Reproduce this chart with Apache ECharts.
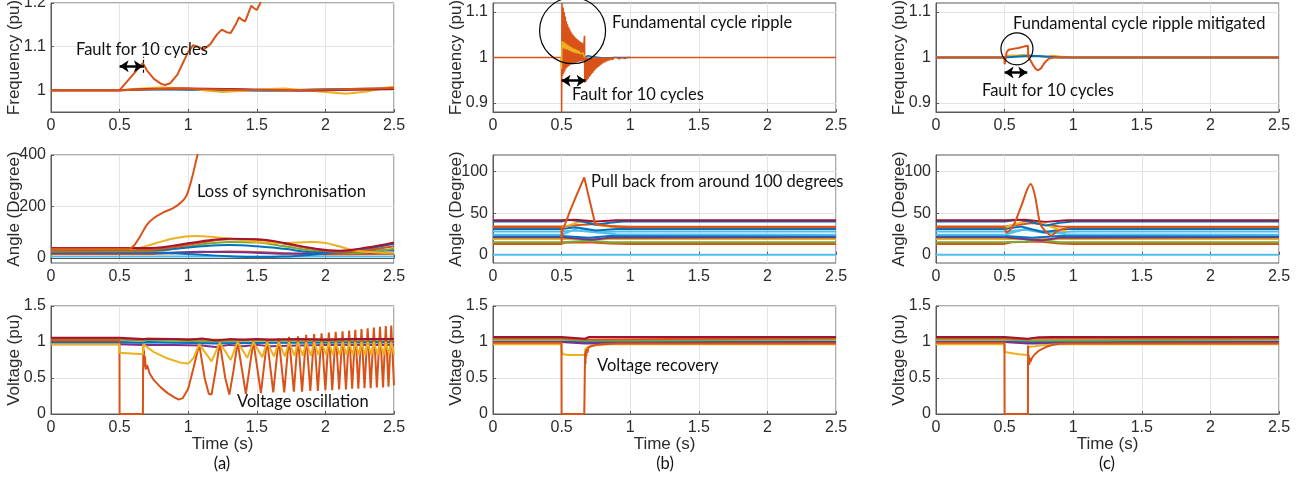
<!DOCTYPE html>
<html>
<head>
<meta charset="utf-8">
<script src="https://cdn.jsdelivr.net/npm/echarts@6/dist/echarts.min.js"></script>
<style>
  html, body { margin: 0; padding: 0; background: #fff; }
  #main { width: 1315px; height: 485px; }
</style>
</head>
<body>
<div id="main"></div>
<script>
// ---- data: [time (s), value] ----

// (a) frequency
const freqA_blue = [[0,1],[0.5,1],[0.8,1.002],[1.2,1.0],[1.6,0.999],[2.0,1.002],[2.5,1.004]];
const freqA_yellow = [[0,1],[0.5,1],[0.6,1.003],[0.8,1.006],[1.0,1.004],[1.15,0.999],[1.25,0.996],[1.4,0.999],[1.55,1.002],[1.7,1.004],[1.85,1.0],[2.0,0.996],[2.15,0.992],[2.3,0.997],[2.45,1.006],[2.5,1.008]];
const freqA_red = [[0,1],[0.5,1],[0.7,1.003],[1.0,1.004],[1.4,1.002],[1.8,0.999],[2.2,1.001],[2.5,1.003]];
const freqA_orange2 = [[0,1],[0.5,1],[0.9,1.004],[1.3,1.001],[1.7,1.0],[2.1,1.002],[2.5,1.005]];
const freqA_orange = [[0,1],[0.5,1],[0.67,1.062],[0.7,1.045],[0.75,1.026],[0.8,1.015],[0.83,1.012],[0.87,1.016],[0.92,1.035],[0.97,1.068],[1.0,1.088],[1.035,1.103],[1.07,1.1],[1.11,1.093],[1.16,1.105],[1.21,1.128],[1.245,1.139],[1.28,1.133],[1.31,1.131],[1.345,1.15],[1.37,1.167],[1.395,1.161],[1.415,1.158],[1.44,1.178],[1.46,1.194],[1.48,1.188],[1.5,1.184],[1.52,1.196],[1.55,1.22],[1.6,1.27]];

// (a) angle
const angA_lblue = [[0,5],[2.5,5]];
const angA_orange3 = [[0,15],[0.7,15],[1.0,20],[1.3,25],[1.7,18],[2.0,14],[2.5,16]];
const angA_purple = [[0,20],[0.8,20],[1.1,24],[1.4,22],[1.7,16],[2.0,18],[2.3,22],[2.5,20]];
const angA_blue2 = [[0,24],[0.7,22],[0.9,18],[1.1,12],[1.3,6],[1.5,3],[1.7,5],[1.9,12],[2.1,22],[2.3,28],[2.5,30]];
const angA_green = [[0,25],[0.7,26],[0.9,35],[1.1,52],[1.3,62],[1.5,60],[1.7,45],[1.9,28],[2.1,18],[2.3,22],[2.5,35]];
const angA_blue = [[0,30],[0.7,30],[0.9,35],[1.1,45],[1.3,50],[1.5,45],[1.7,35],[1.9,22],[2.1,20],[2.3,35],[2.5,55]];
const angA_orange2 = [[0,30],[0.7,31],[0.9,42],[1.1,60],[1.3,72],[1.5,70],[1.7,55],[1.9,35],[2.1,22],[2.3,30],[2.5,45]];
const angA_yellow = [[0,35],[0.6,36],[0.75,55],[0.9,76],[1.05,85],[1.2,80],[1.35,72],[1.5,62],[1.65,58],[1.8,60],[1.9,62],[2.0,58],[2.1,45],[2.2,30],[2.35,22],[2.5,20]];
const angA_red = [[0,38],[0.7,38],[0.9,48],[1.1,65],[1.3,74],[1.5,72],[1.7,58],[1.9,38],[2.1,28],[2.3,40],[2.5,60]];
const angA_orange = [[0,35],[0.56,35],[0.6,45],[0.65,84],[0.7,129],[0.75,155],[0.82,177],[0.89,193],[0.955,219],[0.99,245],[1.03,316],[1.065,394],[1.1,460]];

// (a) voltage
const voltA_lblue = [[0,0.99],[2.5,0.99]];
const voltA_blue = [[0,1.0],[0.5,1.0],[0.505,0.99],[0.67,0.99],[0.7,1.0],[1.2,0.98],[1.6,0.99],[2.5,1.0]];
const voltA_green = [[0,1.03],[0.5,1.03],[0.505,1.02],[0.67,1.02],[0.7,1.03],[1.1,1.01],[1.5,1.02],[2.0,1.02],[2.5,1.03]];
const voltA_orange2 = [[0,1.05],[0.5,1.05],[0.505,1.03],[0.67,1.03],[0.7,1.05],[1.2,1.03],[2.5,1.04]];
const voltA_purple = [[0,0.97],[0.5,0.97],[0.67,0.96],[0.9,0.96],[1.1,0.95],[1.2,0.93],[1.3,0.96],[1.4,0.94],[1.5,0.96],[1.6,0.94],[1.8,0.95],[2.0,0.96],[2.5,0.96]];
const voltA_orange = [[0,1.02],[0.499,1.02],[0.5,0],[0.67,0],[0.671,0.55],[0.673,0.95],[0.675,0.7],[0.678,0.88],[0.681,0.65],[0.685,0.8],[0.69,0.62],[0.7,0.68],[0.72,0.56],[0.75,0.47],[0.8,0.37],[0.85,0.29],[0.9,0.23],[0.93,0.2],[0.96,0.22],[1.0,0.35],[1.04,0.65],[1.08,0.97],
  [1.12,0.5],[1.15,0.28],[1.17,0.27],[1.2,0.6],[1.23,0.99],[1.27,0.5],[1.30,0.27],[1.33,0.6],[1.36,1.0],[1.42,0.28],[1.475,1.01],[1.53,0.29],[1.575,1.03],[1.62,0.3],[1.66,1.05],[1.70,0.3],[1.735,1.07],[1.77,0.31],[1.80,1.08],[1.83,0.31],[1.86,1.1],[1.89,0.32],[1.918,1.11],[1.945,0.32],[1.972,1.12],[2.0,0.33],[2.025,1.13],[2.05,0.33],[2.075,1.14],[2.10,0.34],[2.125,1.15],[2.15,0.34],[2.173,1.16],[2.195,0.35],[2.218,1.17],[2.24,0.35],[2.263,1.18],[2.285,0.36],[2.308,1.19],[2.33,0.36],[2.353,1.2],[2.375,0.37],[2.398,1.21],[2.42,0.37],[2.44,1.22],[2.46,0.38],[2.48,1.23],[2.5,0.4]];
const voltA_yellow = [[0,0.97],[0.499,0.97],[0.5,0.85],[0.51,0.83],[0.67,0.83],[0.672,0.97],[0.68,0.95],[0.75,0.86],[0.85,0.77],[0.95,0.71],[1.0,0.70],[1.04,0.78],[1.08,0.97],[1.17,0.73],[1.23,0.99],[1.31,0.75],[1.36,1.0],[1.43,0.78],[1.475,1.0],[1.54,0.79],[1.575,1.0],[1.625,0.8],[1.66,1.0],[1.705,0.8],[1.735,1.0],[1.775,0.81],[1.80,1.0],[1.835,0.81],[1.86,1.0],[1.895,0.81],[1.918,1.0],[1.95,0.82],[1.972,1.0],[2.005,0.82],[2.025,1.0],[2.055,0.82],[2.075,1.0],[2.105,0.82],[2.125,1.0],[2.155,0.82],[2.173,1.0],[2.2,0.82],[2.218,1.0],[2.245,0.82],[2.263,1.0],[2.29,0.82],[2.308,1.0],[2.335,0.82],[2.353,1.0],[2.38,0.82],[2.398,1.0],[2.425,0.82],[2.44,1.0],[2.465,0.82],[2.48,1.0],[2.5,0.83]];
const voltA_red = [[0,1.06],[0.499,1.06],[0.5,1.04],[0.67,1.04],[0.675,1.06],[0.9,1.04],[1.0,1.03],[1.1,1.05],[1.2,1.02],[1.3,1.04],[1.4,1.03],[1.5,1.04],[1.6,1.03],[1.8,1.04],[2.0,1.03],[2.2,1.04],[2.5,1.04]];

// (b) frequency
const freqB_blue = [[0.6,1],[0.67,1.0],[0.69,1.004],[0.72,1.002],[0.8,0.999],[0.9,1.0],[1.0,1.0]];
const freqB_orange = [[0,1],[0.499,1],[0.5,0.88],[0.503,1.12],[0.507,0.96],[0.511,1.11],[0.515,0.965],[0.519,1.1],[0.523,0.97],[0.527,1.09],[0.531,0.975],[0.535,1.08],[0.539,0.978],[0.543,1.073],[0.547,0.98],[0.551,1.067],[0.555,0.982],[0.559,1.062],[0.563,0.984],[0.567,1.057],[0.571,0.985],[0.575,1.053],[0.579,0.986],[0.583,1.05],[0.587,0.987],[0.591,1.047],[0.595,0.988],[0.599,1.044],[0.603,0.989],[0.607,1.042],[0.611,0.99],[0.615,1.04],[0.619,0.99],[0.623,1.038],[0.627,0.991],[0.631,1.036],[0.635,0.991],[0.639,1.034],[0.643,0.992],[0.647,1.033],[0.651,0.992],[0.655,1.031],[0.659,0.993],[0.663,1.03],[0.667,1.048],[0.669,0.945],[0.673,1.0],[0.677,0.947],[0.681,1.0],[0.685,0.95],[0.689,1.0],[0.693,0.953],[0.697,1.0],[0.701,0.957],[0.705,1.0],[0.709,0.96],[0.713,1.0],[0.717,0.963],[0.721,1.0],[0.725,0.966],[0.729,1.0],[0.733,0.969],[0.737,1.0],[0.741,0.972],[0.745,1.0],[0.749,0.975],[0.753,1.0],[0.757,0.977],[0.761,1.0],[0.765,0.979],[0.769,1.0],[0.773,0.981],[0.777,1.0],[0.781,0.983],[0.785,1.0],[0.79,0.985],[0.795,1.0],[0.8,0.987],[0.805,1.0],[0.81,0.989],[0.815,1.0],[0.82,0.99],[0.825,1.0],[0.83,0.992],[0.835,1.0],[0.84,0.993],[0.845,1.0],[0.85,0.994],[0.86,1.0],[0.87,0.995],[0.88,1.0],[0.89,0.996],[0.9,1.0],[0.92,0.997],[0.94,1.0],[0.96,0.998],[0.98,1.0],[2.5,1.0]];
const freqB_yellow = [[0.495,1],[0.5,0.975],[0.503,1.036],[0.51,1.02],[0.517,1.034],[0.524,1.019],[0.531,1.031],[0.538,1.018],[0.545,1.028],[0.552,1.016],[0.559,1.025],[0.566,1.014],[0.573,1.022],[0.58,1.012],[0.587,1.02],[0.594,1.011],[0.601,1.018],[0.608,1.01],[0.615,1.016],[0.622,1.009],[0.629,1.014],[0.636,1.008],[0.643,1.012],[0.65,1.007],[0.657,1.01],[0.664,1.006],[0.668,1.0]];

// (b) angle
const angB_lblue0 = [[0,0],[2.5,0]];
const angB_orange3 = [[0,13],[0.5,13],[0.52,14.5],[0.7,15],[0.85,13.5],[1.0,13],[2.5,13]];
const angB_green = [[0,15],[0.5,15],[0.6,16],[0.7,17],[0.85,15],[2.5,15]];
const angB_yellow = [[0,19],[2.5,19]];
const angB_purple = [[0,21],[0.5,21],[0.65,19],[0.72,18],[0.85,20.5],[2.5,21]];
const angB_dblue = [[0,22.5],[0.5,22.5],[0.7,20.5],[0.85,22.5],[2.5,22.5]];
const angB_lblue2 = [[0,24],[0.5,24],[0.62,32],[0.75,27],[0.9,24.5],[2.5,24]];
const angB_lblue = [[0,28],[0.5,28],[0.6,29],[0.75,27],[0.9,28],[2.5,28]];
const angB_blue2 = [[0,31],[0.5,31],[0.6,33],[0.75,29],[0.9,31],[2.5,31]];
const angB_orange2 = [[0,34],[0.5,34],[0.6,35.5],[0.75,37],[0.85,34.5],[1.0,33.5],[2.5,33.5]];
const angB_yellow2 = [[0.5,33],[0.55,35],[0.62,39],[0.68,41],[0.72,38],[0.78,35],[0.9,33]];
const angB_blue = [[0,40],[0.5,40],[0.55,42],[0.65,40],[0.75,36],[0.85,38.5],[0.95,40],[2.5,40]];
const angB_red = [[0,41.5],[0.5,41.5],[0.6,42],[0.75,40],[0.9,41.5],[2.5,41.5]];
const angB_orange = [[0,33],[0.499,33],[0.5,15],[0.505,28],[0.56,52],[0.61,72],[0.665,93],[0.705,65],[0.745,37],[0.8,35.5],[0.9,33.5],[1.0,33],[2.5,33]];

// (b) voltage
const voltB_lblue = [[0,1.01],[2.5,1.01]];
const voltB_blue = [[0,1.0],[0.5,1.0],[0.505,0.995],[0.67,0.995],[0.68,1.0],[2.5,1.0]];
const voltB_green = [[0,1.035],[0.5,1.035],[0.505,1.02],[0.67,1.02],[0.68,1.035],[2.5,1.035]];
const voltB_orange2 = [[0,1.055],[0.499,1.055],[0.5,1.035],[0.67,1.035],[0.68,1.05],[2.5,1.055]];
const voltB_purple = [[0,1.0],[0.499,1.0],[0.5,0.98],[0.67,0.98],[0.675,1.0],[2.5,1.0]];
const voltB_red = [[0,1.07],[0.499,1.07],[0.5,1.045],[0.67,1.045],[0.675,1.06],[0.7,1.07],[2.5,1.07]];
const voltB_yellow = [[0,0.97],[0.499,0.97],[0.5,0.87],[0.51,0.83],[0.55,0.82],[0.67,0.82],[0.672,0.9],[0.69,0.93],[0.75,0.955],[0.85,0.97],[2.5,0.97]];
const voltB_orange = [[0,0.99],[0.499,0.99],[0.5,0],[0.665,0],[0.667,0.24],[0.669,0.55],[0.671,0.85],[0.674,0.7],[0.677,0.88],[0.68,0.8],[0.684,0.9],[0.688,0.85],[0.695,0.92],[0.71,0.94],[0.75,0.96],[0.8,0.97],[0.9,0.98],[2.5,0.98]];

// (c) frequency
const freqC_yellow = [[0,1],[0.5,1],[0.52,1.004],[0.6,1.005],[0.67,1.006],[0.7,1.002],[0.75,1.004],[0.8,1.001],[0.85,1.004],[0.9,1.002],[1.0,1.0],[2.5,1.0]];
const freqC_blue = [[0,1],[0.5,1],[0.6,1.002],[0.7,1.004],[0.8,1.002],[0.9,1.0],[2.5,1.0]];
const freqC_orange = [[0,1],[0.499,1],[0.5,0.985],[0.503,0.99],[0.515,1.012],[0.53,1.017],[0.56,1.019],[0.6,1.021],[0.64,1.024],[0.67,1.026],[0.673,1.0],[0.69,0.993],[0.71,0.982],[0.73,0.974],[0.745,0.972],[0.765,0.976],[0.79,0.988],[0.82,0.997],[0.86,1.0],[2.5,1.0]];

// (c) angle
const angC_lblue0 = [[0,0],[2.5,0]];
const angC_orange3 = [[0,13],[0.5,13],[0.55,15],[0.75,16],[0.9,13.5],[1.0,13],[2.5,13]];
const angC_green = [[0,15],[0.5,15],[0.65,16],[0.75,18],[0.9,15],[2.5,15]];
const angC_yellow = [[0,19],[2.5,19]];
const angC_purple = [[0,21],[0.5,21],[0.7,18],[0.78,17.5],[0.9,20.5],[2.5,21]];
const angC_dblue = [[0,22.5],[0.5,22.5],[0.7,20.5],[0.9,22.5],[2.5,22.5]];
const angC_lblue2 = [[0,24],[0.5,24],[0.65,31],[0.8,28],[0.95,24.5],[2.5,24]];
const angC_lblue = [[0,28],[0.5,28],[0.65,30],[0.8,26],[1.0,28],[2.5,28]];
const angC_blue2 = [[0,31],[0.5,31],[0.62,34],[0.78,27],[0.95,31],[2.5,31]];
const angC_orange2 = [[0,34],[0.5,34],[0.6,36],[0.7,38],[0.8,36],[0.9,34],[2.5,33.5]];
const angC_yellow2 = [[0.5,33],[0.58,37],[0.68,41],[0.74,40],[0.8,36],[0.9,30],[0.95,28]];
const angC_blue = [[0,40],[0.5,40],[0.6,42],[0.7,39],[0.8,35],[0.9,38.5],[1.0,40],[2.5,40]];
const angC_red = [[0,41.5],[0.5,41.5],[0.65,42],[0.8,39.5],[0.95,41.5],[2.5,41.5]];
const angC_orange = [[0,33],[0.5,33],[0.51,27],[0.53,28],[0.57,37],[0.62,58],[0.69,85],[0.72,72],[0.76,37],[0.8,28],[0.84,23],[0.88,28],[0.95,32],[1.0,33],[2.5,33]];

// (c) voltage
const voltC_lblue = [[0,1.01],[2.5,1.01]];
const voltC_blue = [[0,1.0],[0.5,1.0],[0.505,0.995],[0.67,0.995],[0.68,1.0],[2.5,1.0]];
const voltC_green = [[0,1.035],[0.5,1.035],[0.505,1.02],[0.67,1.02],[0.68,1.035],[2.5,1.035]];
const voltC_orange2 = [[0,1.055],[0.499,1.055],[0.5,1.035],[0.67,1.035],[0.7,1.05],[2.5,1.055]];
const voltC_purple = [[0,1.0],[0.499,1.0],[0.5,0.98],[0.67,0.98],[0.68,1.0],[2.5,1.0]];
const voltC_red = [[0,1.07],[0.499,1.07],[0.5,1.045],[0.67,1.045],[0.68,1.06],[0.75,1.065],[0.85,1.07],[2.5,1.07]];
const voltC_yellow = [[0,0.97],[0.499,0.97],[0.5,0.86],[0.51,0.84],[0.6,0.83],[0.67,0.82],[0.672,0.93],[0.72,0.94],[0.8,0.96],[0.9,0.97],[2.5,0.97]];
const voltC_orange = [[0,0.99],[0.499,0.99],[0.5,0],[0.67,0],[0.671,0.95],[0.673,0.7],[0.676,0.82],[0.679,0.68],[0.683,0.78],[0.687,0.72],[0.7,0.78],[0.72,0.83],[0.75,0.88],[0.8,0.93],[0.85,0.96],[0.9,0.975],[1.0,0.98],[2.5,0.98]];

// axis ticks
const timeTicks = [0, 0.5, 1, 1.5, 2, 2.5];
const freqTicksA = [1, 1.1, 1.2];
const freqTicksBC = [0.9, 1, 1.1];
const angTicksA = [0, 200, 400];
const angTicksBC = [0, 50, 100];
const voltTicks = [0, 0.5, 1, 1.5];

// ---- layout / style ----
const C = {
  blue: '#0072BD', orange: '#D95319', yellow: '#EDB120', purple: '#7E2F8E',
  green: '#77AC30', lblue: '#4DBEEE', red: '#A2142F'
};
const colLeft = [51, 493, 936];
const rowTop = [3, 155, 306];
const plotW = 343;
const plotH = [109, 108, 108];
const yNameGap = [28, 28, 28];
const yNames = ['Frequency (pu)', 'Angle (Degree)', 'Voltage (pu)'];
const yRange = [
  [{min: 0.95, max: 1.2, ticks: freqTicksA}, {min: 0.88, max: 1.12, ticks: freqTicksBC}, {min: 0.88, max: 1.12, ticks: freqTicksBC}],
  [{min: -20, max: 400, ticks: angTicksA}, {min: -10, max: 120, ticks: angTicksBC}, {min: -10, max: 120, ticks: angTicksBC}],
  [{min: 0, max: 1.5, ticks: voltTicks}, {min: 0, max: 1.5, ticks: voltTicks}, {min: 0, max: 1.5, ticks: voltTicks}]
];
const axisFont = 'Arial';
const noteFont = "Lato, 'Open Sans', sans-serif";
const axisText = '#2b2b2b';

const grids = [], xAxes = [], yAxes = [];
for (let r = 0; r < 3; r++) {
  for (let c = 0; c < 3; c++) {
    grids.push({
      left: colLeft[c], top: rowTop[r], width: plotW, height: plotH[r],
      show: true, borderColor: '#5a5a5a', borderWidth: 1, outerBoundsMode: 'none'
    });
    const gi = r * 3 + c;
    xAxes.push({
      type: 'value', gridIndex: gi, min: 0, max: 2.5, interval: 0.5,
      name: r === 2 ? 'Time (s)' : '', nameLocation: 'middle', nameGap: 22, nameMoveOverlap: false,
      nameTextStyle: {color: axisText, fontSize: 17, fontFamily: axisFont},
      axisLine: {lineStyle: {color: '#5a5a5a'}},
      axisTick: {inside: true, length: 3, lineStyle: {color: '#5a5a5a'}},
      axisLabel: {color: axisText, fontSize: 16, fontFamily: axisFont, margin: 6, customValues: timeTicks},
      splitLine: {show: true, lineStyle: {color: '#e3e3e3', width: 1}}
    });
    const yr = yRange[r][c];
    yAxes.push({
      type: 'value', gridIndex: gi, min: yr.min, max: yr.max,
      name: yNames[r], nameLocation: 'middle', nameGap: yNameGap[c], nameMoveOverlap: false,
      nameTextStyle: {color: axisText, fontSize: 17, fontFamily: axisFont},
      axisLine: {show: true, lineStyle: {color: '#5a5a5a'}},
      axisTick: {inside: true, length: 3, lineStyle: {color: '#5a5a5a'}, customValues: yr.ticks},
      axisLabel: {color: axisText, fontSize: 16, fontFamily: axisFont, margin: 5, customValues: yr.ticks},
      splitLine: {show: true, lineStyle: {color: '#e3e3e3', width: 1}}
    });
  }
}

function line(data, color, gi, extra) {
  return Object.assign({
    type: 'line', xAxisIndex: gi, yAxisIndex: gi, data: data,
    showSymbol: false, symbol: 'none', silent: true, animation: false,
    lineStyle: {color: color, width: 2}, itemStyle: {color: color}
  }, extra || {});
}

const arrowMark = (t0, t1, y) => ({
  silent: true, symbol: ['arrow', 'arrow'], symbolSize: 9, animation: false,
  label: {show: false}, emphasis: {disabled: true},
  lineStyle: {color: '#000', width: 2.5, type: 'solid'},
  data: [[{coord: [t0, y]}, {coord: [t1, y]}]]
});

const series = [
  // (a) frequency - grid 0
  line(freqA_blue, C.blue, 0),
  line(freqA_yellow, C.yellow, 0, {
    markLine: {
      silent: true, symbol: ['none', 'none'], animation: false, label: {show: false},
      lineStyle: {color: '#000', width: 1.2, type: [3, 2]},
      data: [[{coord: [0.67, 1.04]}, {coord: [0.67, 1.077]}]]
    }
  }),
  line(freqA_red, C.red, 0),
  line(freqA_orange2, C.orange, 0),
  line(freqA_orange, C.orange, 0, {markLine: arrowMark(0.5, 0.67, 1.055)}),
  // (b) frequency - grid 1
  line(freqB_blue, C.blue, 1, {lineStyle: {color: C.blue, width: 1.5}}),
  line(freqB_orange, C.orange, 1, {lineStyle: {color: C.orange, width: 1.6}, markLine: arrowMark(0.5, 0.675, 0.949)}),
  line(freqB_yellow, C.yellow, 1, {lineStyle: {color: C.yellow, width: 1.5}}),
  // (c) frequency - grid 2
  line(freqC_yellow, C.yellow, 2),
  line(freqC_blue, C.blue, 2),
  line(freqC_orange, C.orange, 2, {markLine: arrowMark(0.5, 0.665, 0.967)}),
  // (a) angle - grid 3
  line(angA_lblue, C.lblue, 3),
  line(angA_orange3, C.orange, 3, {smooth: 0.4}),
  line(angA_purple, C.purple, 3, {smooth: 0.4}),
  line(angA_blue2, C.blue, 3, {smooth: 0.4}),
  line(angA_green, C.green, 3, {smooth: 0.4}),
  line(angA_blue, C.blue, 3, {smooth: 0.4}),
  line(angA_orange2, C.orange, 3, {smooth: 0.4}),
  line(angA_yellow, C.yellow, 3, {smooth: 0.4}),
  line(angA_red, C.red, 3, {smooth: 0.4}),
  line(angA_orange, C.orange, 3, {smooth: 0.3}),
  // (b) angle - grid 4
  line(angB_lblue0, C.lblue, 4),
  line(angB_orange3, C.orange, 4),
  line(angB_green, C.green, 4),
  line(angB_yellow, C.yellow, 4),
  line(angB_purple, C.purple, 4),
  line(angB_dblue, C.blue, 4),
  line(angB_lblue2, C.lblue, 4),
  line(angB_lblue, C.lblue, 4),
  line(angB_blue2, C.blue, 4),
  line(angB_orange2, C.orange, 4),
  line(angB_yellow2, C.yellow, 4),
  line(angB_blue, C.blue, 4),
  line(angB_red, C.red, 4),
  line(angB_orange, C.orange, 4),
  // (c) angle - grid 5
  line(angC_lblue0, C.lblue, 5),
  line(angC_orange3, C.orange, 5),
  line(angC_green, C.green, 5),
  line(angC_yellow, C.yellow, 5),
  line(angC_purple, C.purple, 5),
  line(angC_dblue, C.blue, 5),
  line(angC_lblue2, C.lblue, 5),
  line(angC_lblue, C.lblue, 5),
  line(angC_blue2, C.blue, 5),
  line(angC_orange2, C.orange, 5),
  line(angC_yellow2, C.yellow, 5),
  line(angC_blue, C.blue, 5),
  line(angC_red, C.red, 5),
  line(angC_orange, C.orange, 5, {smooth: 0.3}),
  // (a) voltage - grid 6
  line(voltA_lblue, C.lblue, 6),
  line(voltA_blue, C.blue, 6),
  line(voltA_green, C.green, 6),
  line(voltA_orange2, C.orange, 6),
  line(voltA_purple, C.purple, 6),
  line(voltA_orange, C.orange, 6),
  line(voltA_yellow, C.yellow, 6),
  line(voltA_red, C.red, 6),
  // (b) voltage - grid 7
  line(voltB_lblue, C.lblue, 7),
  line(voltB_blue, C.blue, 7),
  line(voltB_green, C.green, 7),
  line(voltB_orange2, C.orange, 7),
  line(voltB_purple, C.purple, 7),
  line(voltB_red, C.red, 7),
  line(voltB_yellow, C.yellow, 7),
  line(voltB_orange, C.orange, 7),
  // (c) voltage - grid 8
  line(voltC_lblue, C.lblue, 8),
  line(voltC_blue, C.blue, 8),
  line(voltC_green, C.green, 8),
  line(voltC_orange2, C.orange, 8),
  line(voltC_purple, C.purple, 8),
  line(voltC_red, C.red, 8),
  line(voltC_yellow, C.yellow, 8),
  line(voltC_orange, C.orange, 8)
];

const chart = echarts.init(document.getElementById('main'), null, {renderer: 'canvas'});
chart.setOption({
  animation: false,
  backgroundColor: '#fff',
  grid: grids,
  xAxis: xAxes,
  yAxis: yAxes,
  series: series
});

// annotations
function note(text, x, y) {
  return {
    type: 'text', x: x, y: y, silent: true, z: 100,
    style: {text: text, font: '16.5px ' + noteFont, fill: '#111', align: 'left', verticalAlign: 'middle'}
  };
}
function caption(text, x, y) {
  return {
    type: 'text', x: x, y: y, silent: true, z: 100,
    style: {text: text, font: '16.5px ' + noteFont, fill: '#111', align: 'center', verticalAlign: 'middle'}
  };
}
const ringB = chart.convertToPixel({gridIndex: 1}, [0.58, 1.059]);
const ringC = chart.convertToPixel({gridIndex: 2}, [0.59, 1.019]);

chart.setOption({
  graphic: [
    note('Fault for 10 cycles', 76, 50),
    note('Loss of synchronisation', 197, 192),
    note('Voltage oscillation', 237, 402),
    note('Fundamental cycle ripple', 612, 23),
    note('Fault for 10 cycles', 572, 95),
    note('Pull back from around 100 degrees', 591, 182),
    note('Voltage recovery', 597, 366),
    note('Fundamental cycle ripple mitigated', 1013, 24),
    note('Fault for 10 cycles', 982, 91),
    caption('(a)', 222, 464),
    caption('(b)', 665, 464),
    caption('(c)', 1107, 464),
    {type: 'circle', silent: true, z: 90, shape: {cx: ringB[0], cy: ringB[1], r: 33},
      style: {fill: 'none', stroke: '#000', lineWidth: 1.2}},
    {type: 'circle', silent: true, z: 90, shape: {cx: ringC[0], cy: ringC[1], r: 16},
      style: {fill: 'none', stroke: '#000', lineWidth: 1.2}}
  ]
});
</script>
</body>
</html>
